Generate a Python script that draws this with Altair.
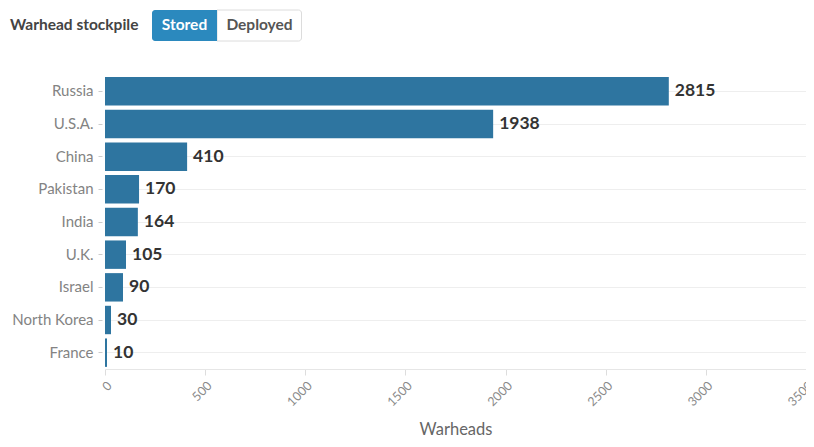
import altair as alt
import pandas as pd

# ---- data ----
countries = ["Russia", "U.S.A.", "China", "Pakistan", "India", "U.K.", "Israel", "North Korea", "France"]
stored = [2815, 1938, 410, 170, 164, 105, 90, 30, 10]
x_ticks = [0, 500, 1000, 1500, 2000, 2500, 3000, 3500]
header_label = "Warhead stockpile"
toggle_labels = ["Stored", "Deployed"]
axis_title = "Warheads"

df = pd.DataFrame({"country": countries, "warheads": stored})
one = pd.DataFrame({"k": [0]})

FONT = "Lato"
W, H = 701, 294
BAR = "#2e75a0"
BTN = "#2b89be"

x_enc = alt.X(
    "warheads:Q",
    scale=alt.Scale(domain=[0, 3500], nice=False),
    axis=alt.Axis(
        values=x_ticks, format="d", labelAngle=-45, grid=False,
        domainColor="#e6e6e6", tickColor="#dddddd", tickSize=6,
        labelFont=FONT, labelFontSize=12.5, labelColor="#8a8a8a", labelPadding=4,
        title=axis_title, titleFont=FONT, titleFontSize=16.5, titleFontWeight="normal",
        titleColor="#666666", titleY=65, titleBaseline="alphabetic",
    ),
)
y_enc = alt.Y(
    "country:N", sort=countries, title=None,
    scale=alt.Scale(paddingInner=0.13, paddingOuter=0.065),
    axis=alt.Axis(
        domain=False, ticks=True, tickSize=4, tickColor="#cccccc", offset=3,
        labelPadding=5, labelFont=FONT, labelFontSize=15, labelColor="#838383",
        grid=True, gridColor="#eeeeee", bandPosition=0.5,
    ),
)

bars = alt.Chart(df).mark_bar(color=BAR).encode(x=x_enc, y=y_enc)
values = alt.Chart(df).mark_text(
    align="left", baseline="middle", dx=6, font=FONT, fontSize=17.5,
    fontWeight="bold", color="#333333",
).encode(x="warheads:Q", y=alt.Y("country:N", sort=countries), text="warheads:Q")

# ---- header (toggle) ----
hdr_text = alt.Chart(one).mark_text(
    align="left", baseline="middle", font=FONT, fontSize=15.5, fontWeight="bold", color="#444444"
).encode(x=alt.value(-95), y=alt.value(-50), text=alt.value(header_label))

btn_on = alt.Chart(one).mark_rect(
    fill=BTN, cornerRadiusTopLeft=3, cornerRadiusBottomLeft=3
).encode(x=alt.value(47), x2=alt.value(112), y=alt.value(-65), y2=alt.value(-34))
btn_off = alt.Chart(one).mark_rect(
    fill="white", stroke="#dcdcdc", strokeWidth=1,
    cornerRadiusTopRight=3, cornerRadiusBottomRight=3
).encode(x=alt.value(112), x2=alt.value(196.5), y=alt.value(-65), y2=alt.value(-34))
btn_on_t = alt.Chart(one).mark_text(
    align="center", baseline="middle", font=FONT, fontSize=15.5, fontWeight="bold", color="white"
).encode(x=alt.value(79.5), y=alt.value(-50), text=alt.value(toggle_labels[0]))
btn_off_t = alt.Chart(one).mark_text(
    align="center", baseline="middle", font=FONT, fontSize=15.5, fontWeight="bold", color="#555555"
).encode(x=alt.value(154.5), y=alt.value(-50), text=alt.value(toggle_labels[1]))

chart = alt.layer(
    bars, values, btn_off, btn_on, hdr_text, btn_on_t, btn_off_t
).properties(
    width=W, height=H,
    padding={"left": 97, "top": 67, "right": 0, "bottom": 70},
    autosize=alt.AutoSizeParams(type="none"),
    background="white",
).configure_view(stroke=None)

chart.save("out.html", embed_options={"renderer": "svg", "actions": False})
